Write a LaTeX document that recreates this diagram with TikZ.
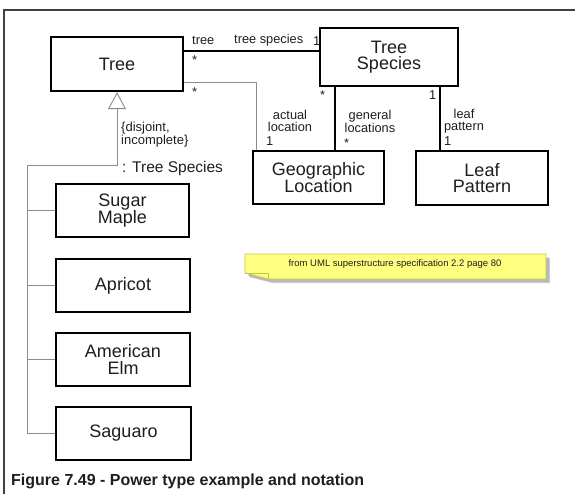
\documentclass[tikz,border=0pt]{standalone}
\usepackage{fontspec}
\setmainfont{Liberation Sans}
\usetikzlibrary{arrows.meta,calc}

\definecolor{ink}{HTML}{1E1E1E}
\definecolor{framegray}{HTML}{404040}
\definecolor{genlinegray}{HTML}{8C8C8C}
\definecolor{noteyellow}{HTML}{FFFF80}
\definecolor{noteedge}{HTML}{C2C25A}

\begin{document}
\begin{tikzpicture}[x=1pt,y=-1pt,
  cls/.style={draw=black, line width=2.3pt, fill=white, align=center,
    font=\fontsize{18}{16.5}\selectfont, text=ink, inner sep=0pt,
    minimum width=133pt, minimum height=53pt},
  role/.style={font=\fontsize{12.8}{11.5}\selectfont, text=ink, inner sep=0pt, align=center},
  assoc/.style={line width=2pt, black},
  thinassoc/.style={line width=0.9pt, genlinegray},
  genline/.style={line width=0.9pt, genlinegray}
]
\useasboundingbox (0,0) rectangle (575,494);

% page frame (top and left edges)
\draw[framegray, line width=1.3pt] (575,10) -- (4,10) -- (4,494);

% classes
\node[cls, minimum width=132pt, minimum height=54pt] (Tree) at (117,64) {Tree};
\node[cls, minimum width=138pt, minimum height=58pt] (TreeSpecies) at (389,57) {Tree\\Species};
\node[cls, minimum width=131pt] (GeoLoc) at (318.5,177.5) {Geographic\\Location};
\node[cls, minimum width=132pt, minimum height=54pt] (LeafPattern) at (482,178) {Leaf\\Pattern};

\node[cls] (Maple) at (122.5,210.5) {Sugar\\Maple};
\node[cls, minimum width=134pt] (Apricot) at (123,285.5) {Apricot};
\node[cls, minimum width=134pt] (Elm) at (123,359.5) {American\\Elm};
\node[cls, minimum width=135pt] (Saguaro) at (123.5,433.5) {Saguaro};

% associations
\draw[assoc] ([yshift=13pt]Tree.east) -- ([yshift=13pt]Tree.east -| TreeSpecies.west);
\draw[thinassoc] ([yshift=-18pt]Tree.east) -| ([xshift=5pt]GeoLoc.north west);
\draw[assoc] ([xshift=16pt]TreeSpecies.south west) -- ([xshift=16pt]TreeSpecies.south west |- GeoLoc.north);
\draw[assoc] ([xshift=-19pt]TreeSpecies.south east) -- ([xshift=-19pt]TreeSpecies.south east |- LeafPattern.north);

% association end labels
\node[role, anchor=west] (lTree) at (192,40) {tree};
\node[role, anchor=west] (lSpecies) at (234,40) {tree species};
\node[role, anchor=west] (lOne) at (313,41) {1};
\node[role, anchor=west] (lStarA) at (192,60) {*};
\node[role, anchor=west] (lStarB) at (192,92) {*};
\node[role] (lActual) at (290,121) {actual\\location};
\node[role, anchor=west] (lOneA) at (266,141) {1};
\node[role, anchor=west] (lStarC) at (320,95) {*};
\node[role] (lGeneral) at (370,121) {general\\locations};
\node[role, anchor=west] (lStarD) at (344,143) {*};
\node[role, anchor=west] (lOneB) at (429,95) {1};
\node[role] (lLeaf) at (464,121) {leaf\\pattern};
\node[role, anchor=west] (lOneC) at (444,141) {1};

% generalization set (power type)
\coordinate (bus) at (27,165);
\draw[genline, -{Triangle[open, length=17pt, width=18pt, line width=0.9pt]}]
  (bus) -- (Tree.south |- bus) -- (Tree.south);
\draw[genline] (bus) |- (Saguaro.west);
\draw[genline] (bus |- Maple.west) -- (Maple.west);
\draw[genline] (bus |- Apricot.west) -- (Apricot.west);
\draw[genline] (bus |- Elm.west) -- (Elm.west);

\node[role, anchor=west, align=left, font=\fontsize{13}{11.5}\selectfont] (lConstraint) at (121,135) {\{disjoint,\\incomplete\}};
\node[role, anchor=west, font=\fontsize{15.5}{15}\selectfont] (lPowertype) at (122,168) {: Tree Species};

% comment note with curled corner
\fill[black, opacity=0.18] (249,258) -- (550,258) -- (550,283) -- (272,283) -- (249,277) -- cycle;
\fill[black, opacity=0.12] (248,257) -- (549,257) -- (549,282) -- (271,282) -- (248,276) -- cycle;
\filldraw[fill=noteyellow, draw=noteedge, line width=0.8pt]
  (245,254) -- (546,254) -- (546,279) -- (268,279) -- (245,273) -- cycle;
\draw[noteedge, line width=0.8pt] (245,273) -- (268,273) -- (268,279);
\node[role, font=\fontsize{9.5}{11}\selectfont] (noteText) at (395,264.5) {from UML superstructure specification 2.2 page 80};

% caption
\node[anchor=west, inner sep=0pt, text=ink, font=\fontsize{16}{18}\bfseries] (caption) at (11,481) {Figure 7.49 - Power type example and notation};
\end{tikzpicture}
\end{document}
